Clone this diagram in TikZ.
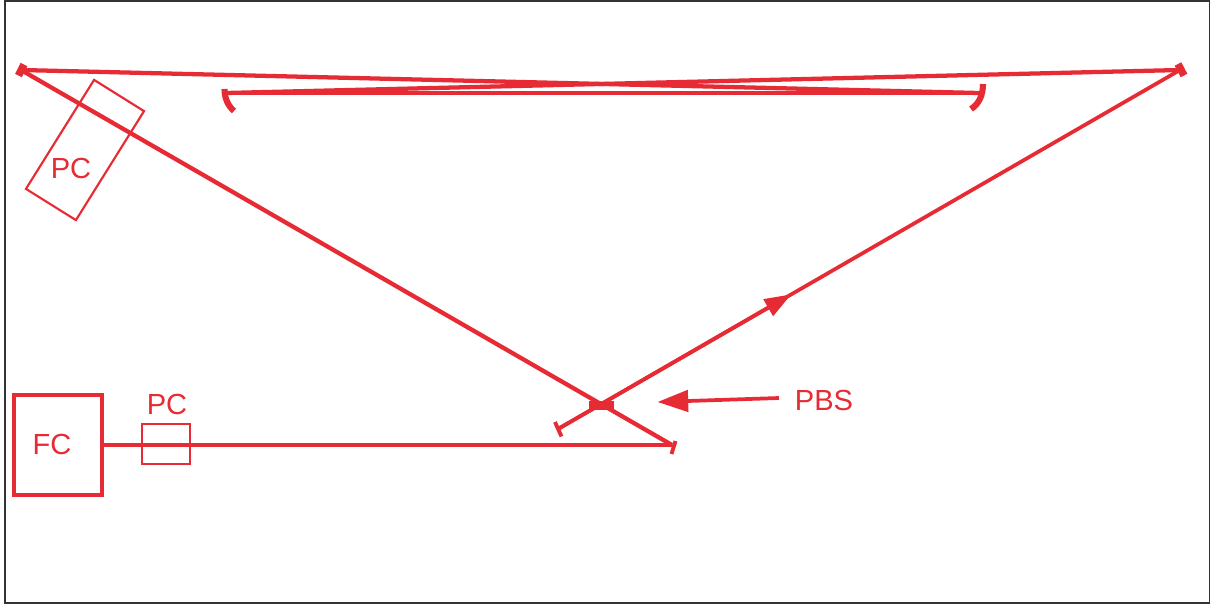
\documentclass[tikz,border=0pt]{standalone}
\usepackage{fontspec}
\setmainfont{Liberation Sans}
\usetikzlibrary{arrows.meta,calc}
\definecolor{beamred}{HTML}{E72B35}
\tikzset{
  px/.style={x=0.75pt,y=-0.75pt},
  beam/.style={draw=beamred,line width=3.2pt,line cap=butt},
  thinbeam/.style={draw=beamred,line width=2.8pt},
  endmirror/.style={draw=beamred,line width=4.6pt},
  flatmirror/.style={draw=beamred,line width=5.6pt},
  tick/.style={draw=beamred,line width=2.9pt},
  lbl/.style={text=beamred,font=\fontsize{21.8pt}{24pt}\selectfont,inner sep=0pt,outer sep=0pt},
  thinbox/.style={draw=beamred,line width=1.6pt,inner sep=0pt,outer sep=0pt},
  fcbox/.style={draw=beamred,line width=3.4pt,inner sep=0pt,outer sep=0pt,minimum width=66pt,minimum height=75pt},
  frame/.style={draw=black!80,line width=1.5pt}
}
\begin{document}
\begin{tikzpicture}[px]
\useasboundingbox (0,0) rectangle (1210,604);
\draw[frame] (5,1) rectangle (1209.5,603);

% named points of the beam path
\coordinate (ml) at (21,70);
\coordinate (mr) at (1180,70);
\coordinate (cl) at (226,93);
\coordinate (cr) at (979,93);
\coordinate (e1) at (558,429);
\coordinate (e2) at (672,445);
\coordinate (bs) at (601.5,405.5);

% boxes
\node[fcbox] (fc) at (58,445) {};
\node[lbl] (fclabel) at (52,444) {FC};
\node[thinbox,minimum width=36pt,minimum height=30pt] (pcb) at (166,444) {};
\node[lbl] (pcblabel) at (167,404) {PC};
\node[thinbox,minimum width=96.4pt,minimum height=44.2pt,rotate=58] (pca) at (85,150) {};
\node[lbl] (pcalabel) at (71,168) {PC};
\node[lbl] (pbslabel) at (824,400) {PBS};

% beams
\draw[beam] (mr) -- (cl);
\draw[beam] (cl) -- (cr);
\draw[beam] (cr) -- (ml);
\draw[beam] (ml) -- (e2);
\draw[thinbeam] (mr) -- (e1);
\draw[thinbeam] (fc.east) -- (e2);
\draw[thinbeam,-{Triangle[length=20pt,width=14pt]}] (e1) -- ($(e1)!0.375!(mr)$);

% PBS cube
\fill[beamred] ($(bs)+(-12.5,-4.5)$) rectangle ($(bs)+(12.5,4.5)$);

% flat mirrors
\draw[flatmirror] (24,64.5) -- (18.5,75.5);
\draw[flatmirror] (1178,64) -- (1184,75.5);
\draw[tick] (555,422) -- (561.5,436.5);
\draw[tick] (675.5,441) -- (671.5,454);

% curved mirrors
\draw[endmirror] (224.5,89) .. controls (224.5,98) and (228,106) .. (234,111);
\draw[endmirror] (983,84) .. controls (983,95) and (979,104) .. (971,109);

% PBS pointer
\coordinate (pstart) at (779,398);
\coordinate (ptip) at (657.5,402);
\draw[draw=beamred,line width=2.8pt,-{Triangle[length=23pt,width=16pt]}] (pstart) -- (ptip);
\end{tikzpicture}
\end{document}
